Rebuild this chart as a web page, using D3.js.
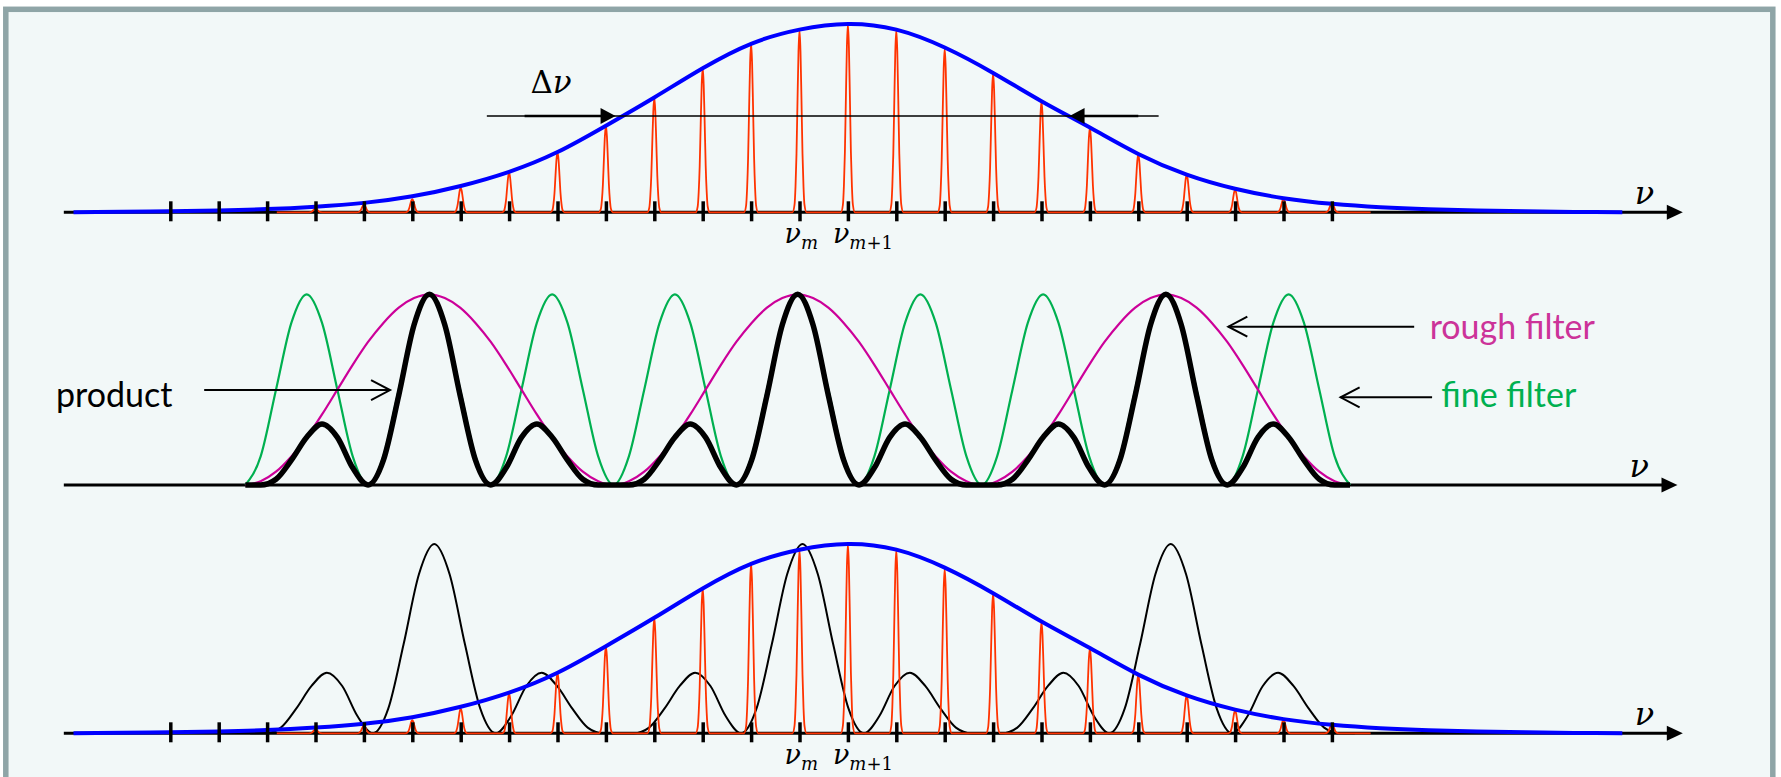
<!DOCTYPE html>
<html>
<head>
<meta charset="utf-8">
<title>Comb and filters</title>
<style>
  html, body { margin: 0; padding: 0; background: #ffffff; }
  svg { display: block; }
  .word { font-family: Lato, "Open Sans", sans-serif; font-size: 34px; }
  .math { font-family: "DejaVu Serif", serif; }
</style>
<script src="https://cdn.jsdelivr.net/npm/d3@7/dist/d3.min.js"></script>
</head>
<body>
<div id="main"></div>
<script>
// frequencies are counted in comb modes from nu_{m+1}
var tickModes = [-14, -13, -12, -11, -10, -9, -8, -7, -6, -5, -4, -3, -2, -1, 0, 1, 2, 3, 4, 5, 6, 7, 8, 9, 10];
var combModes = [-11, -10, -9, -8, -7, -6, -5, -4, -3, -2, -1, 0, 1, 2, 3, 4, 5, 6, 7, 8, 9, 10];
var combHeights = [0.02, 0.04, 0.07, 0.13, 0.21, 0.32, 0.46, 0.61, 0.77, 0.90, 0.97, 1, 0.97, 0.87, 0.74, 0.59, 0.45, 0.31, 0.20, 0.12, 0.07, 0.05];
var combSpan = [-11.8, 10.8];

var envelopeModes = [-16, -15, -14, -13, -12, -11, -10, -9, -8, -7, -6, -5, -4, -3, -2, -1, 0, 1, 2, 3, 4, 5, 6, 7, 8, 9, 10, 11, 12, 13, 14, 15, 16];
var envelopeHeights = [0, 0.003, 0.006, 0.01, 0.017, 0.03, 0.05, 0.085, 0.14, 0.215, 0.32, 0.46, 0.61, 0.765, 0.895, 0.97, 1, 0.97, 0.875, 0.74, 0.59, 0.45, 0.31, 0.20, 0.125, 0.075, 0.045, 0.027, 0.016, 0.009, 0.005, 0.002, 0];

// filter transmissions, read every 1/8 of the fine filter period
var filterStart = -12.45;
var filterStep = 0.317;
var fineFilter = [
  0, 0.15, 0.5, 0.85, 1, 0.85, 0.5, 0.15,
  0, 0.15, 0.5, 0.85, 1, 0.85, 0.5, 0.15,
  0, 0.15, 0.5, 0.85, 1, 0.85, 0.5, 0.15,
  0, 0.15, 0.5, 0.85, 1, 0.85, 0.5, 0.15,
  0, 0.15, 0.5, 0.85, 1, 0.85, 0.5, 0.15,
  0, 0.15, 0.5, 0.85, 1, 0.85, 0.5, 0.15,
  0, 0.15, 0.5, 0.85, 1, 0.85, 0.5, 0.15,
  0, 0.15, 0.5, 0.85, 1, 0.85, 0.5, 0.15,
  0, 0.15, 0.5, 0.85, 1, 0.85, 0.5, 0.15,
  0];
var roughFilter = [
  0, 0.02, 0.07, 0.15, 0.25, 0.37, 0.5, 0.63, 0.75, 0.85, 0.93, 0.98, 1, 0.98, 0.93, 0.85, 0.75, 0.63, 0.5, 0.37, 0.25, 0.15, 0.07, 0.02,
  0, 0.02, 0.07, 0.15, 0.25, 0.37, 0.5, 0.63, 0.75, 0.85, 0.93, 0.98, 1, 0.98, 0.93, 0.85, 0.75, 0.63, 0.5, 0.37, 0.25, 0.15, 0.07, 0.02,
  0, 0.02, 0.07, 0.15, 0.25, 0.37, 0.5, 0.63, 0.75, 0.85, 0.93, 0.98, 1, 0.98, 0.93, 0.85, 0.75, 0.63, 0.5, 0.37, 0.25, 0.15, 0.07, 0.02,
  0];
var productFilter = [
  0, 0, 0.03, 0.13, 0.25, 0.32, 0.25, 0.09, 0, 0.13, 0.47, 0.84, 1, 0.84, 0.47, 0.13, 0, 0.09, 0.25, 0.32, 0.25, 0.13, 0.03, 0,
  0, 0, 0.03, 0.13, 0.25, 0.32, 0.25, 0.09, 0, 0.13, 0.47, 0.84, 1, 0.84, 0.47, 0.13, 0, 0.09, 0.25, 0.32, 0.25, 0.13, 0.03, 0,
  0, 0, 0.03, 0.13, 0.25, 0.32, 0.25, 0.09, 0, 0.13, 0.47, 0.84, 1, 0.84, 0.47, 0.13, 0, 0.09, 0.25, 0.32, 0.25, 0.13, 0.03, 0,
  0];
var productShift = 0.1;   // the copy in the bottom panel sits a little to the right

var modeLabels = [{mode: -1, sub: "m", extra: ""}, {mode: 0, sub: "m", extra: "+1"}];

var width = 1781;
var height = 777;
var axisFrom = -16.2, axisTo = 17.25;
var blue = "#0000ff", comb = "#ff3300", green = "#00b050", pink = "#cc0099";

// shape of one comb line: pixel offset, fraction of the line height
var lineShape = [[-7, 0], [-5, 0.04], [-4, 0.14], [-3, 0.32], [-2, 0.61], [-1, 0.88], [0, 1], [1, 0.88], [2, 0.61], [3, 0.32], [4, 0.14], [5, 0.04], [7, 0]];

var x = d3.scaleLinear().domain([-14, 10]).range([170.3, 1331.9]);
var y1 = d3.scaleLinear().domain([0, 1]).range([212.3, 24]);
var y2 = d3.scaleLinear().domain([0, 1]).range([485, 294.3]);
var y3 = d3.scaleLinear().domain([0, 1]).range([733.3, 544]);

function axisLine(g, y, to) {
  var y0 = y(0);
  g.append("line").attr("x1", x(axisFrom)).attr("x2", x(to) - 10).attr("y1", y0).attr("y2", y0)
    .attr("stroke", "#000").attr("stroke-width", 3);
  var tip = x(to);
  g.append("path").attr("d", "M" + tip + "," + y0 + "L" + (tip - 16) + "," + (y0 - 7.5) + "L" + (tip - 16) + "," + (y0 + 7.5) + "Z")
    .attr("fill", "#000");
  g.append("text").attr("class", "math").attr("font-style", "italic").attr("font-size", 32)
    .attr("x", tip - 48).attr("y", y0 - 8).text("ν");
}

function combPath(y) {
  var pts = [[x(combSpan[0]), y(0)]];
  combModes.forEach(function(m, i) {
    lineShape.forEach(function(s) {
      pts.push([x(m) + s[0], y(combHeights[i] * s[1])]);
    });
  });
  pts.push([x(combSpan[1]), y(0)]);
  return d3.line().curve(d3.curveMonotoneX)(pts);
}

function envelope(g, y) {
  var line = d3.line()
    .x(function(d, i) { return x(envelopeModes[i]); })
    .y(function(d) { return y(Math.max(0, d)); })
    .curve(d3.curveNatural);
  g.append("path").attr("d", line(envelopeHeights))
    .attr("fill", "none").attr("stroke", blue).attr("stroke-width", 4);
}

function filterLine(values, y, shift) {
  return d3.line()
    .x(function(d, i) { return x(filterStart + i * filterStep + shift); })
    .y(function(d) { return y(d); })
    .curve(d3.curveMonotoneX)(values);
}

function ticks(g, y) {
  g.append("g").attr("transform", "translate(0," + y(0) + ")")
    .call(d3.axisBottom(x).tickValues(tickModes).tickSize(0).tickFormat(""))
    .call(function(a) { a.select(".domain").remove(); })
    .call(function(a) {
      a.selectAll(".tick line").attr("y1", -11).attr("y2", 9)
        .attr("stroke", "#000").attr("stroke-width", 3.5);
    });
}

function modeText(g, y) {
  modeLabels.forEach(function(d) {
    var t = g.append("text").attr("class", "math").attr("font-size", 27)
      .attr("x", x(d.mode) - 15).attr("y", y(0) + 31);
    t.append("tspan").attr("font-style", "italic").text("ν");
    t.append("tspan").attr("font-style", "italic").attr("font-size", 18).attr("dy", 6).text(d.sub);
    if (d.extra) t.append("tspan").attr("font-size", 18).text(d.extra);
  });
}

function pointer(g, y, tail, tip, level) {
  var ty = y(level), tx = x(tip), dir = tip > tail ? 1 : -1;
  g.append("line").attr("x1", x(tail)).attr("x2", tx).attr("y1", ty).attr("y2", ty)
    .attr("stroke", "#000").attr("stroke-width", 2);
  g.append("path").attr("d", "M" + (tx - dir * 19) + "," + (ty - 10) + "L" + tx + "," + ty + "L" + (tx - dir * 19) + "," + (ty + 10))
    .attr("fill", "none").attr("stroke", "#000").attr("stroke-width", 2);
}

var svg = d3.select("#main").append("svg").attr("width", width).attr("height", height);

svg.append("rect").attr("x", 5.8).attr("y", 9.3).attr("width", 1767).attr("height", 820)
  .attr("fill", "#f2f8f8").attr("stroke", "#8fa5a7").attr("stroke-width", 5.5);

// top panel: comb under its envelope
var upper = svg.append("g");
axisLine(upper, y1, axisTo);
upper.append("path").attr("d", combPath(y1)).attr("fill", "none").attr("stroke", comb).attr("stroke-width", 1.8);
envelope(upper, y1);
ticks(upper, y1);
modeText(upper, y1);

// width of the envelope
var half = 0.511;
upper.append("line").attr("x1", x(-7.46)).attr("x2", x(6.42)).attr("y1", y1(half)).attr("y2", y1(half))
  .attr("stroke", "#000").attr("stroke-width", 1.5);
[[-6.68, -4.8], [6.0, 4.58]].forEach(function(a) {
  var yy = y1(half), tip = x(a[1]), dir = a[1] > a[0] ? 1 : -1;
  upper.append("line").attr("x1", x(a[0])).attr("x2", tip - dir * 10).attr("y1", yy).attr("y2", yy)
    .attr("stroke", "#000").attr("stroke-width", 2.5);
  upper.append("path").attr("d", "M" + tip + "," + yy + "L" + (tip - dir * 15) + "," + (yy - 8) + "L" + (tip - dir * 15) + "," + (yy + 8) + "Z")
    .attr("fill", "#000");
});
var dnu = upper.append("text").attr("class", "math").attr("font-size", 31).attr("x", x(-6.56)).attr("y", y1(0.632));
dnu.append("tspan").text("Δ");
dnu.append("tspan").attr("font-style", "italic").text("ν");

// middle panel: the two filters and their product
var middle = svg.append("g");
axisLine(middle, y2, 17.14);
middle.append("path").attr("d", filterLine(fineFilter, y2, 0)).attr("fill", "none").attr("stroke", green).attr("stroke-width", 2.2);
middle.append("path").attr("d", filterLine(roughFilter, y2, 0)).attr("fill", "none").attr("stroke", pink).attr("stroke-width", 2.2);
middle.append("path").attr("d", filterLine(productFilter, y2, 0)).attr("fill", "none").attr("stroke", "#000").attr("stroke-width", 5.5)
  .attr("stroke-linejoin", "round");

pointer(middle, y2, -13.3, -9.46, 0.498);
pointer(middle, y2, 11.7, 7.86, 0.83);
pointer(middle, y2, 12.07, 10.18, 0.46);
middle.append("text").attr("class", "word").attr("x", x(-16.36)).attr("y", y2(0.408)).attr("fill", "#000").text("product");
middle.append("text").attr("class", "word").attr("x", x(12.02)).attr("y", y2(0.765)).attr("fill", "#cc3399").text("rough filter");
middle.append("text").attr("class", "word").attr("x", x(12.26)).attr("y", y2(0.410)).attr("fill", green).text("fine filter");

// bottom panel: filtered comb
var lower = svg.append("g");
axisLine(lower, y3, axisTo);
lower.append("path").attr("d", filterLine(productFilter, y3, productShift)).attr("fill", "none").attr("stroke", "#000").attr("stroke-width", 2);
lower.append("path").attr("d", combPath(y3)).attr("fill", "none").attr("stroke", comb).attr("stroke-width", 1.8);
envelope(lower, y3);
ticks(lower, y3);
modeText(lower, y3);
</script>
</body>
</html>
